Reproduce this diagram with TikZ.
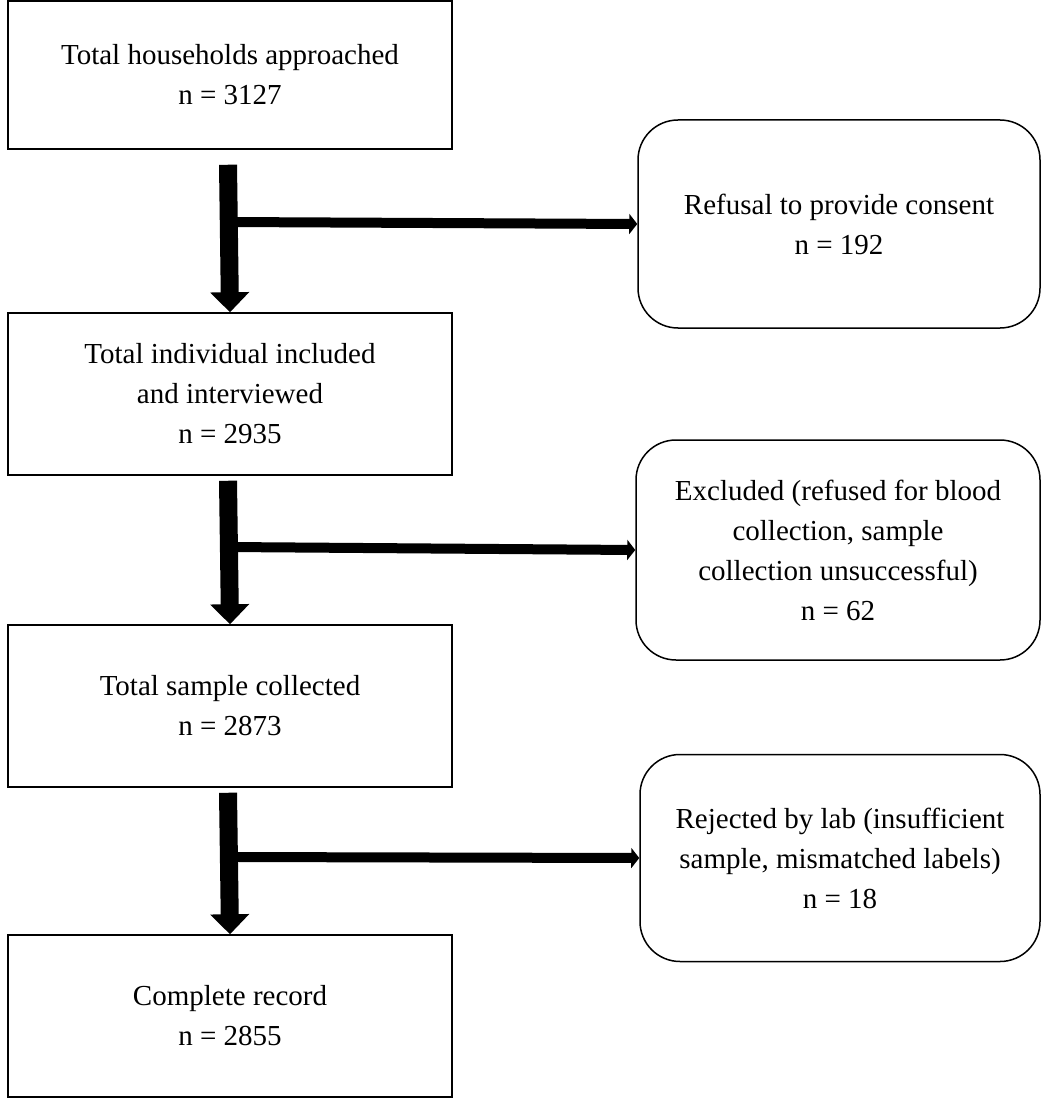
\documentclass[tikz,border=0pt]{standalone}
\usepackage{fontspec}
\setmainfont{Liberation Serif}
\usetikzlibrary{arrows.meta,calc}
\tikzset{
  box/.style = {draw, line width=1.5pt, align=center, minimum width=444pt,
    font=\fontsize{29}{40}\selectfont},
  side/.style = {box, rounded corners=40pt, minimum width=402pt},
  down/.style = {line width=18pt, -{Triangle[width=38pt,length=20pt]}},
  branch/.style = {line width=10pt, -{Triangle[width=20pt,length=8pt]}}
}

\begin{document}
\begin{tikzpicture}[x=1pt,y=-1pt]
  \useasboundingbox (0,0) rectangle (1041,1099);
  % main column
  \node[box, minimum height=148pt] (total) at (230,75) {Total households approached\\n = 3127};
  \node[box, minimum height=162pt] (interv) at (230,394) {Total individual included\\and interviewed\\n = 2935};
  \node[box, minimum height=162pt] (sample) at (230,706) {Total sample collected\\n = 2873};
  \node[box, minimum height=162pt] (record) at (230,1016) {Complete record\\n = 2855};
  % exclusions
  \node[side, minimum height=208pt] (refusal) at (839,224) {Refusal to provide consent\\n = 192};
  \node[side, minimum height=220pt, minimum width=404pt] (excl) at (838,550) {Excluded (refused for blood\\collection, sample\\collection unsuccessful)\\n = 62};
  \node[side, minimum height=207pt, minimum width=400pt] (reject) at (840,858) {Rejected by lab (insufficient\\sample, mismatched labels)\\n = 18};
  % flow
  \draw[down] ($(total.south)+(-2,15)$) -- (interv.north);
  \draw[down] ($(interv.south)+(-2,5)$) -- (sample.north);
  \draw[down] ($(sample.south)+(-2,5)$) -- (record.north);
  \draw[branch] (228,222) coordinate (b1) -- (refusal.west);
  \draw[branch] (228,547) coordinate (b2) -- (excl.west);
  \draw[branch] (228,857) coordinate (b3) -- (reject.west);
\end{tikzpicture}
\end{document}
